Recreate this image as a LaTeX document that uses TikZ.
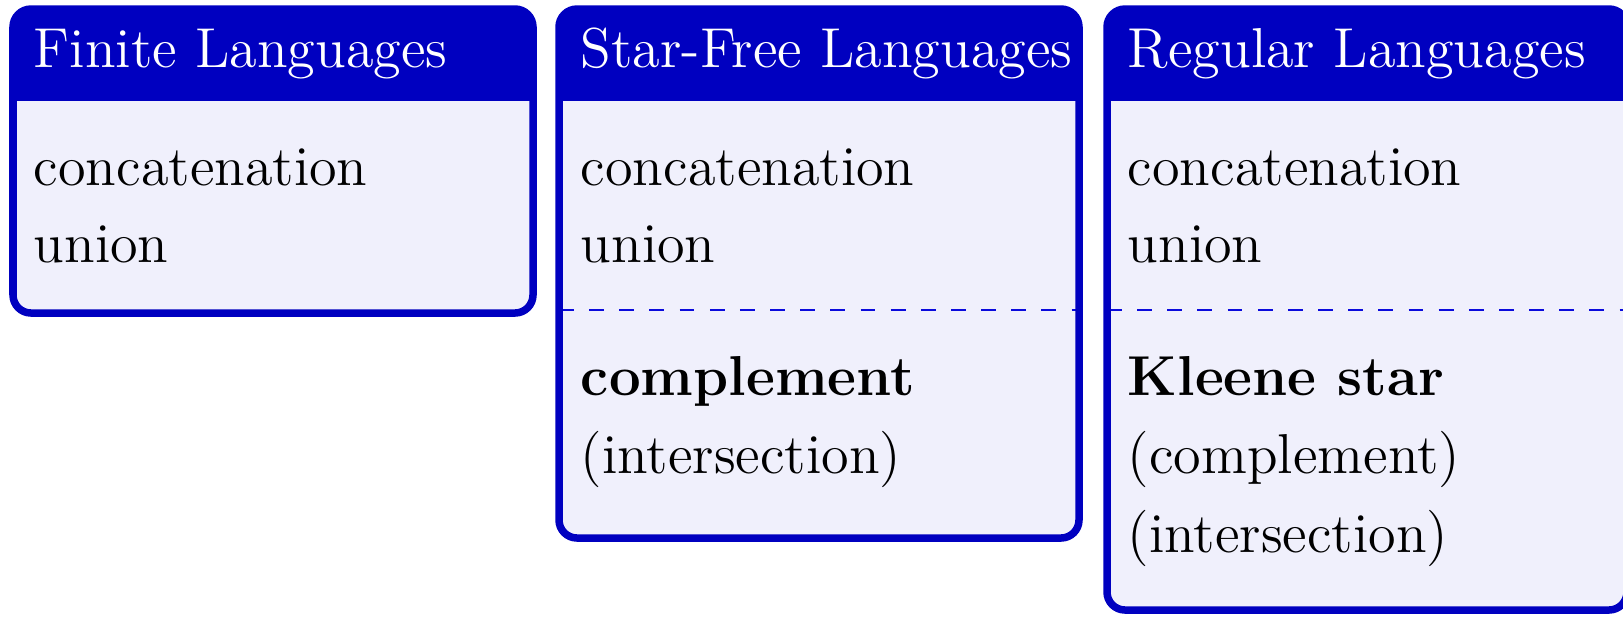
\documentclass[tikz,border=0pt]{standalone}
\definecolor{frame}{RGB}{0,0,192}
\definecolor{pane}{RGB}{240,240,252}
\definecolor{sep}{RGB}{10,10,220}
\begin{document}
\begin{tikzpicture}[x=0.2222pt,y=-0.2222pt,
  panel/.style={draw=frame, line width=1.667pt, rounded corners=4pt},
  heading/.style={fill=frame, rounded corners=4pt},
  divider/.style={draw=sep, line width=0.56pt, dash pattern=on 3.3pt off 3.4pt},
  title/.style={anchor=base west, inner sep=0pt, text=white, font=\fontsize{12.5}{15}\selectfont},
  item/.style={anchor=base west, inner sep=0pt, font=\fontsize{12.5}{15}\selectfont}]
\useasboundingbox (0,0) rectangle (1623,618);

% --- panel backgrounds ---
\fill[pane, rounded corners=4pt] (13,9) rectangle (533,313);
\fill[pane, rounded corners=4pt] (559,9) rectangle (1079,538);
\fill[pane, rounded corners=4pt] (1107,9) rectangle (1627,610);

% --- header bands ---
\begin{scope}
  \clip (0,0) rectangle (1650,100);
  \fill[heading] (13,9) rectangle (533,313);
  \fill[heading] (559,9) rectangle (1079,538);
  \fill[heading] (1107,9) rectangle (1627,610);
\end{scope}

% --- dividers between basic and extra operations ---
\draw[divider] (559,310) -- (1079,310);
\draw[divider] (1107,310) -- (1627,310);

% --- frames ---
\draw[panel] (13,9) rectangle (533,313);
\draw[panel] (559,9) rectangle (1079,538);
\draw[panel] (1107,9) rectangle (1627,610);

% --- finite languages ---
\node[title] (finT) at (33,67) {Finite Languages};
\node[item] (finC) at (33,185) {concatenation};
\node[item] (finU) at (33,262) {union};

% --- star-free languages ---
\node[title] (sfT) at (580,67) {Star-Free Languages};
\node[item] (sfC) at (580,185) {concatenation};
\node[item] (sfU) at (580,262) {union};
\node[item] (sfK) at (580,395) {\bfseries complement};
\node[item] (sfI) at (580,473) {(intersection)};

% --- regular languages ---
\node[title] (regT) at (1127,67) {Regular Languages};
\node[item] (regC) at (1127,185) {concatenation};
\node[item] (regU) at (1127,262) {union};
\node[item] (regS) at (1127,395) {\bfseries Kleene star};
\node[item] (regK) at (1127,473) {(complement)};
\node[item] (regI) at (1127,552) {(intersection)};
\end{tikzpicture}
\end{document}
